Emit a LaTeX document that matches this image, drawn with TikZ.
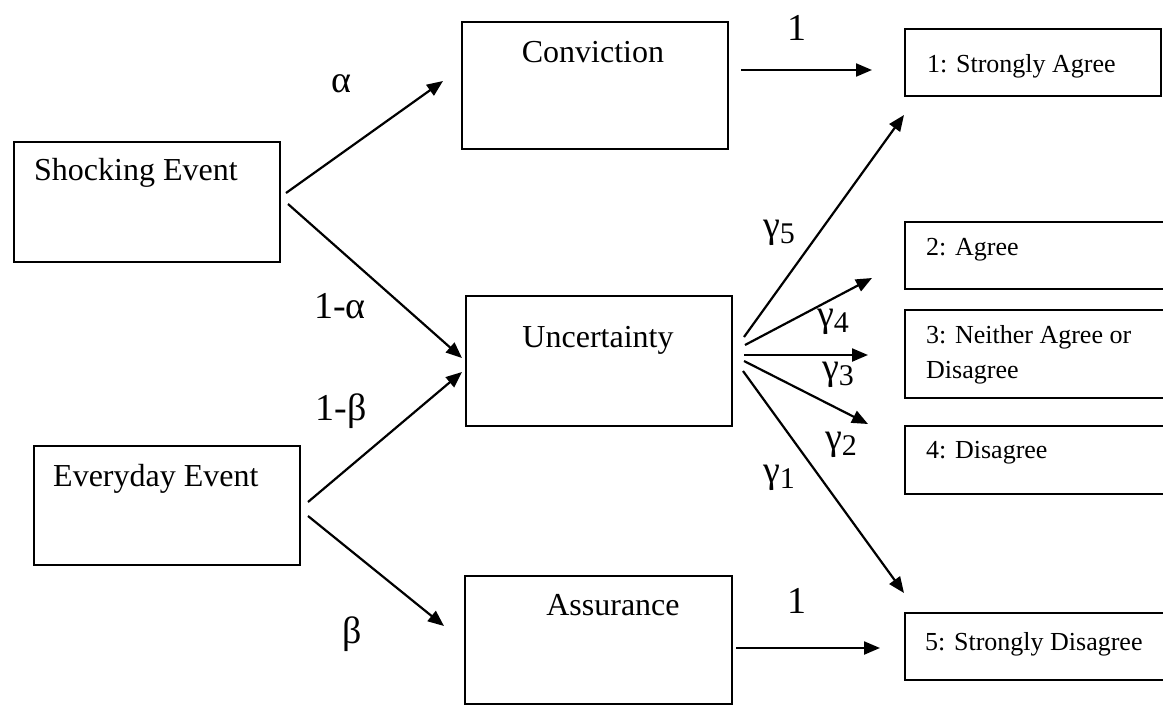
\documentclass[tikz,border=0pt]{standalone}
\usepackage{fontspec}
\setmainfont{Liberation Serif}
\usetikzlibrary{arrows.meta}
\newcommand{\gsub}[1]{γ\raisebox{-6pt}{\fontsize{30}{30}\selectfont #1}}
\begin{document}
\begin{tikzpicture}[x=1pt,y=-1pt,
  box/.style={draw=black, line width=2.2pt, anchor=north west, inner sep=0pt},
  mainlbl/.style={font=\fontsize{32}{36}\selectfont, inner sep=0pt},
  smalllbl/.style={font=\fontsize{26}{35}\selectfont, inner sep=0pt, anchor=base west},
  glbl/.style={font=\fontsize{38}{40}\selectfont, inner sep=0pt},
  conn/.style={line width=2.2pt, -{Triangle[length=16pt,width=13pt]}}]
\useasboundingbox (0,0) rectangle (1163,705);
\fill[white] (0,0) rectangle (1163,705);
\clip (0,0) rectangle (1163,705);

% boxes
\node[box, minimum width=266pt, minimum height=120pt] (shock) at (13,141) {};
\node[box, minimum width=266pt, minimum height=119pt] (every) at (33,445) {};
\node[box, minimum width=266pt, minimum height=127pt] (conv) at (461,21) {};
\node[box, minimum width=266pt, minimum height=130pt] (unc) at (465,295) {};
\node[box, minimum width=267pt, minimum height=128pt] (assur) at (464,575) {};
\node[box, minimum width=256pt, minimum height=67pt] (r1) at (904,28) {};
\node[box, minimum width=290pt, minimum height=67pt] (r2) at (904,221) {};
\node[box, minimum width=290pt, minimum height=88pt] (r3) at (904,309) {};
\node[box, minimum width=290pt, minimum height=68pt] (r4) at (904,425) {};
\node[box, minimum width=290pt, minimum height=67pt] (r5) at (904,612) {};

% box texts
\node[mainlbl, anchor=base west] (tshock) at (34,180) {Shocking Event};
\node[mainlbl, anchor=base west] (tevery) at (53,486) {Everyday Event};
\node[mainlbl, anchor=base] (tconv) at (593,62) {Conviction};
\node[mainlbl, anchor=base] (tunc) at (598,347) {Uncertainty};
\node[mainlbl, anchor=base] (tassur) at (613,615) {Assurance};
\node[smalllbl] (t1) at (927,72) {1: Strongly Agree};
\node[smalllbl] (t2) at (926,255) {2: Agree};
\node[smalllbl] (t3a) at (926,343) {3: Neither Agree or};
\node[smalllbl] (t3b) at (926,378) {Disagree};
\node[smalllbl] (t4) at (926,458) {4: Disagree};
\node[smalllbl] (t5) at (925,650) {5: Strongly Disagree};

% connector ends
\coordinate (sA) at (286,193);  \coordinate (eA) at (443,81);
\coordinate (sB) at (288,204);  \coordinate (eB) at (462,358);
\coordinate (sC) at (308,502);  \coordinate (eC) at (462,372);
\coordinate (sD) at (308,516);  \coordinate (eD) at (444,626);
\coordinate (sE) at (741,70);   \coordinate (eE) at (872,70);
\coordinate (s5) at (744,337);  \coordinate (e5) at (904,115);
\coordinate (s4) at (745,345);  \coordinate (e4) at (872,278);
\coordinate (s3) at (744,355);  \coordinate (e3) at (868,355);
\coordinate (s2) at (744,361);  \coordinate (e2) at (868,424);
\coordinate (s1) at (743,371);  \coordinate (e1) at (904,593);
\coordinate (sF) at (736,648);  \coordinate (eF) at (880,648);

\draw[conn] (sA) -- (eA);
\draw[conn] (sB) -- (eB);
\draw[conn] (sC) -- (eC);
\draw[conn] (sD) -- (eD);
\draw[conn] (sE) -- (eE);
\draw[conn] (s5) -- (e5);
\draw[conn] (s4) -- (e4);
\draw[conn] (s3) -- (e3);
\draw[conn] (s2) -- (e2);
\draw[conn] (s1) -- (e1);
\draw[conn] (sF) -- (eF);

% labels
\node[glbl, anchor=base] (la) at (341,92) {α};
\node[glbl, anchor=base] (l1a) at (340,318) {1-α};
\node[glbl, anchor=base] (l1b) at (341,420) {1-β};
\node[glbl, anchor=base] (lb) at (352,643) {β};
\node[glbl, anchor=base] (lone1) at (797,40) {1};
\node[glbl, anchor=base] (lone2) at (797,613) {1};
\node[glbl, anchor=base west] (lg5) at (763,237) {\gsub{5}};
\node[glbl, anchor=base west] (lg4) at (817,326) {\gsub{4}};
\node[glbl, anchor=base west] (lg3) at (822,379) {\gsub{3}};
\node[glbl, anchor=base west] (lg2) at (825,449) {\gsub{2}};
\node[glbl, anchor=base west] (lg1) at (763,482) {\gsub{1}};
\end{tikzpicture}
\end{document}
